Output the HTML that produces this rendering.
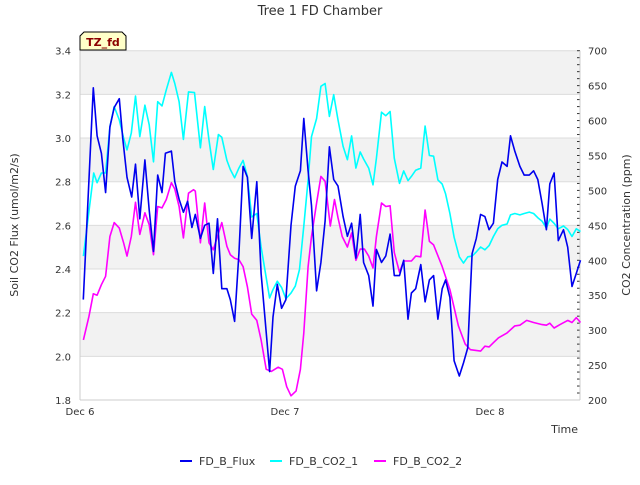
<!DOCTYPE html>
<html><head><meta charset="utf-8"><style>
body{margin:0;background:#fff;font-family:"Liberation Sans","DejaVu Sans",sans-serif}
svg text{font-family:"DejaVu Sans","Liberation Sans",sans-serif}
</style></head><body>
<svg id="c" width="640" height="480" xmlns="http://www.w3.org/2000/svg">
<text x="320" y="15" text-anchor="middle" font-size="13" fill="#333">Tree 1 FD Chamber</text>
<g id="bands"></g><g id="axes"></g><g id="series"></g>
<text transform="translate(18,225) rotate(-90)" text-anchor="middle" font-size="11" fill="#333">Soil CO2 Flux (umol/m2/s)</text>
<text transform="translate(630,225) rotate(-90)" text-anchor="middle" font-size="11" fill="#333">CO2 Concentration (ppm)</text>
<text x="578" y="433" text-anchor="end" font-size="11" fill="#333">Time</text>
<g><path d="M80,50 L80,36 L84,32 L122,32 L126,36 L126,50 Z" fill="#ffffc8" stroke="#000" stroke-width="1"/>
<text x="103" y="46" text-anchor="middle" font-size="11" font-weight="bold" fill="#8b0000">TZ_fd</text></g>
<g id="legend"></g>
</svg>
<script>
const fluxH=[0.39,1.56,2.0,2.5,3.0,3.5,4.0,4.6,5.0,5.5,6.05,6.5,7.0,7.6,8.1,8.6,9.1,9.6,10.0,10.7,11.1,11.6,12.1,12.6,13.1,13.5,14.1,14.6,15.1,15.6,16.1,16.6,17.2,17.6,18.1,18.6,19.1,19.6,20.1,20.7,21.2,22.2,22.6,23.1,23.6,24.1,24.7,25.2,25.8,26.2,26.7,27.1,27.7,28.2,28.7,29.2,29.7,30.2,30.8,31.3,31.8,32.3,32.8,33.2,33.8,34.3,34.7,35.3,35.8,36.3,36.8,37.4,37.9,38.4,38.8,39.3,39.9,40.4,40.9,41.4,41.9,42.4,42.8,43.3,43.8,44.4,44.9,45.4,45.9,46.4,46.9,47.4,47.9,48.4,48.9,49.4,50.0,50.4,50.9,51.5,52.0,52.6,53.1,53.6,54.1,54.6,55.0,55.5,56.0,56.6,57.1,57.6,58.1,58.6];
const fluxV=[2.26,3.23,3.01,2.93,2.75,3.05,3.14,3.18,3.0,2.82,2.73,2.88,2.63,2.90,2.67,2.48,2.83,2.75,2.93,2.94,2.80,2.72,2.66,2.71,2.59,2.65,2.54,2.60,2.61,2.38,2.63,2.31,2.31,2.26,2.16,2.47,2.87,2.82,2.54,2.80,2.38,1.93,2.18,2.33,2.22,2.26,2.60,2.78,2.85,3.09,2.85,2.69,2.30,2.43,2.62,2.96,2.81,2.78,2.64,2.55,2.61,2.45,2.65,2.43,2.37,2.23,2.49,2.43,2.46,2.56,2.37,2.37,2.44,2.17,2.29,2.31,2.42,2.25,2.35,2.37,2.17,2.31,2.35,2.27,1.98,1.91,1.97,2.04,2.47,2.54,2.65,2.64,2.58,2.61,2.81,2.89,2.87,3.01,2.94,2.87,2.83,2.83,2.85,2.81,2.70,2.58,2.79,2.84,2.53,2.58,2.50,2.32,2.38,2.44];
const co21H=[0.4,1.6,2.0,2.5,3.0,3.5,4.0,4.6,5.1,5.5,6.0,6.5,7.0,7.6,8.1,8.6,9.1,9.6,10.1,10.7,11.1,11.6,12.1,12.7,13.4,14.1,14.6,15.1,15.6,16.2,16.6,17.2,17.6,18.1,18.6,19.1,19.6,20.1,20.7,21.2,22.2,22.6,23.1,23.6,24.1,24.7,25.2,25.7,26.2,26.7,27.1,27.7,28.2,28.7,29.2,29.7,30.2,30.8,31.3,31.8,32.3,32.8,33.2,33.8,34.3,34.7,35.3,35.8,36.3,36.8,37.4,37.9,38.4,38.8,39.3,39.9,40.4,40.9,41.4,41.9,42.4,42.8,43.3,43.8,44.4,44.9,45.4,45.9,46.4,46.9,47.4,47.9,48.4,48.9,49.4,50.0,50.4,50.9,51.5,52.0,52.6,53.1,53.6,54.1,54.6,55.0,55.5,56.0,56.6,57.1,57.6,58.1,58.6];
const co21V=[406,525,511,525,525,591,620,601,575,558,582,635,577,622,594,541,627,621,644,669,653,627,573,641,640,561,620,572,530,580,576,543,530,518,532,543,520,462,467,419,346,358,370,361,345,353,363,387,449,515,577,603,649,653,606,637,601,563,544,578,532,555,545,532,508,546,612,607,613,546,510,528,514,520,529,532,592,550,549,515,509,495,467,433,405,396,405,406,412,419,415,421,434,445,450,452,465,467,465,467,469,467,461,456,446,459,453,445,449,444,434,445,441];
const co22H=[0.4,1.05,1.56,2.0,2.5,3.0,3.5,4.0,4.6,5.1,5.5,6.0,6.5,7.0,7.6,8.1,8.6,9.1,9.6,10.1,10.7,11.1,11.6,12.1,12.7,13.3,13.5,14.1,14.6,15.1,15.6,16.6,17.2,17.6,18.1,18.6,19.1,19.6,20.1,20.7,21.2,21.8,22.4,23.2,23.7,24.2,24.7,25.3,25.8,26.2,26.7,27.1,27.7,28.2,28.7,29.3,29.8,30.2,30.7,31.3,31.8,32.3,32.8,33.3,33.8,34.3,34.7,35.3,35.8,36.3,36.8,37.4,37.9,38.8,39.3,39.9,40.4,40.9,41.4,42.4,43.3,44.3,45.1,45.7,46.9,47.4,47.9,48.4,49.0,50.0,50.9,51.5,52.3,53.1,54.1,54.6,55.0,55.5,56.2,57.1,57.6,58.1,58.6];
const co22V=[286,320,352,350,365,377,434,454,446,425,406,434,483,437,468,451,408,477,475,487,511,502,477,432,496,501,499,425,482,425,415,454,420,408,403,401,391,362,323,314,286,244,241,247,244,219,206,213,244,296,391,434,482,520,513,449,487,461,434,419,439,400,416,416,406,389,434,482,477,478,411,383,399,399,406,405,472,427,422,391,358,306,280,272,270,277,276,282,289,296,306,307,314,311,308,307,310,303,308,314,311,318,311];
const leftTicks=[1.8,2.0,2.2,2.4,2.6,2.8,3.0,3.2,3.4];
const rightTicks=[200,250,300,350,400,450,500,550,600,650,700];
const xTickH=[0,24,48];
const xTickLabels=["Dec 6","Dec 7","Dec 8"];
const L=80,R=580,T=50.7,B=400;
const xs=h=>L+h/24*205;
const yl=v=>B-(v-1.8)/1.6*(B-T);
const yr=v=>B-(v-200)/500*(B-T);
const NS="http://www.w3.org/2000/svg";
function mk(tag,attrs,parent,text){const e=document.createElementNS(NS,tag);for(const k in attrs)e.setAttribute(k,attrs[k]);if(text!==undefined)e.textContent=text;parent.appendChild(e);return e;}
const bands=document.getElementById('bands'),axes=document.getElementById('axes'),ser=document.getElementById('series'),leg=document.getElementById('legend');
for(let i=0;i<leftTicks.length-1;i++){
  if(i%2===1){const r=mk('rect',{x:L,y:yl(leftTicks[i+1]),width:R-L,height:yl(leftTicks[i])-yl(leftTicks[i+1]),fill:'#f2f2f2'},bands);
  
  }
}
leftTicks.forEach(v=>{
  const g=mk('line',{x1:L,x2:R,y1:yl(v),y2:yl(v),stroke:'#dcdcdc','stroke-width':1},axes);
  
  
  const t=mk('text',{x:L-9,y:yl(v)+4,'text-anchor':'end','font-size':10,fill:'#333'},axes,v.toFixed(1));
  
  
});
for(let v=200;v<=700;v+=10){
  const major=v%50===0;
  const tk=mk('line',{x1:R,x2:R-(major?0:-4)+(major?-4:0),y1:yr(v),y2:yr(v),stroke:'#333','stroke-width':1},axes);
  tk.setAttribute('x1',R-3);tk.setAttribute('x2',R);
  
  
}
rightTicks.forEach(v=>{
  const t=mk('text',{x:R+8,y:yr(v)+4,'font-size':10,fill:'#333'},axes,String(v));
  
  
});
mk('line',{x1:L,x2:L,y1:T,y2:B,stroke:'#ccc'},axes);
mk('line',{x1:L,x2:R,y1:B,y2:B,stroke:'#ccc'},axes);
mk('line',{x1:R,x2:R,y1:T,y2:B,stroke:'#ccc'},axes);
xTickH.forEach((h,i)=>{
  const t=mk('text',{x:xs(h),y:415,'text-anchor':'middle','font-size':10,fill:'#333'},axes,xTickLabels[i]);
  
  
});
function line(H,V,fy,color,name){
  const d=H.map((h,i)=>(i?'L':'M')+xs(h).toFixed(1)+','+fy(V[i]).toFixed(1)).join(' ');
  const p=mk('path',{d:d,fill:'none',stroke:color,'stroke-width':1.6,'stroke-linejoin':'round'},ser);
  
  
}
line(co21H,co21V,yr,'#00ffff','series-fd-b-co2-1');
line(co22H,co22V,yr,'#ff00ff','series-fd-b-co2-2');
line(fluxH,fluxV,yl,'#0000ee','series-fd-b-flux');
const items=[['FD_B_Flux','#0000ee',180],['FD_B_CO2_1','#00ffff',270],['FD_B_CO2_2','#ff00ff',374]];
items.forEach(it=>{
  const g=mk('g',{},leg);
  
  
  mk('line',{x1:it[2],x2:it[2]+12,y1:461,y2:461,stroke:it[1],'stroke-width':2},g);
  mk('text',{x:it[2]+19,y:465,'font-size':11,fill:'#333'},g,it[0]);
});
</script>
</body></html>
